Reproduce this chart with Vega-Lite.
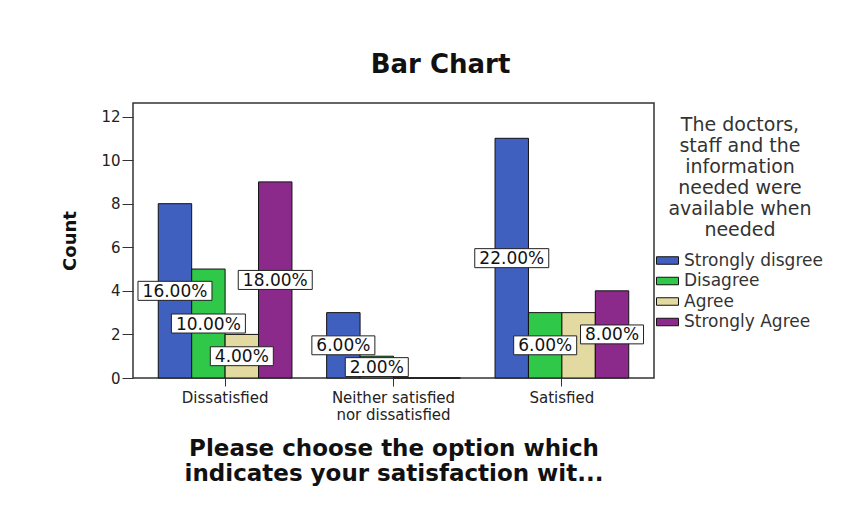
{
  "$schema": "https://vega.github.io/schema/vega-lite/v6.json",
  "autosize": "none",
  "width": 521,
  "height": 275,
  "padding": {"left": 133, "top": 103, "right": 204, "bottom": 134},
  "background": "white",
  "title": {"text": "Bar Chart", "font": "DejaVu Sans", "fontSize": 26, "fontWeight": "bold", "color": "#111111", "offset": 25, "dx": 47, "anchor": "middle", "frame": "group"},
  "config": {"view": {"stroke": "#333333", "strokeWidth": 1.5}, "font": "DejaVu Sans"},
  "data": {"values": [
    {"satisfaction": "Dissatisfied", "response": "Strongly disgree", "count": 8, "pct": 0.16},
    {"satisfaction": "Dissatisfied", "response": "Disagree", "count": 5, "pct": 0.10},
    {"satisfaction": "Dissatisfied", "response": "Agree", "count": 2, "pct": 0.04},
    {"satisfaction": "Dissatisfied", "response": "Strongly Agree", "count": 9, "pct": 0.18},
    {"satisfaction": "Neither satisfied nor dissatisfied", "response": "Strongly disgree", "count": 3, "pct": 0.06},
    {"satisfaction": "Neither satisfied nor dissatisfied", "response": "Disagree", "count": 1, "pct": 0.02},
    {"satisfaction": "Neither satisfied nor dissatisfied", "response": "Agree", "count": 0, "pct": 0},
    {"satisfaction": "Neither satisfied nor dissatisfied", "response": "Strongly Agree", "count": 0, "pct": 0},
    {"satisfaction": "Satisfied", "response": "Strongly disgree", "count": 11, "pct": 0.22},
    {"satisfaction": "Satisfied", "response": "Disagree", "count": 3, "pct": 0.06},
    {"satisfaction": "Satisfied", "response": "Agree", "count": 3, "pct": 0.06},
    {"satisfaction": "Satisfied", "response": "Strongly Agree", "count": 4, "pct": 0.08}
  ]},
  "encoding": {
    "x": {"field": "satisfaction", "type": "nominal", "sort": ["Dissatisfied", "Neither satisfied nor dissatisfied", "Satisfied"],
      "scale": {"paddingInner": 0.206, "paddingOuter": 0.15},
      "title": ["Please choose the option which", "indicates your satisfaction wit..."],
      "axis": {"labelAngle": 0, "domain": false, "tickSize": 8, "tickColor": "#333333", "labelPadding": 4, "labelFontSize": 15, "labelColor": "#222222", "labelLineHeight": 17,
        "labelExpr": "datum.value == 'Neither satisfied nor dissatisfied' ? ['Neither satisfied', 'nor dissatisfied'] : datum.value",
        "titleFontSize": 23, "titleFontWeight": "bold", "titleColor": "#111111", "titlePadding": 15, "titleLineHeight": 25}},
    "xOffset": {"field": "response", "type": "nominal", "sort": ["Strongly disgree", "Disagree", "Agree", "Strongly Agree"]}
  },
  "layer": [
    {
      "mark": {"type": "bar", "stroke": "#111111", "strokeWidth": 1},
      "encoding": {
        "y": {"field": "count", "type": "quantitative", "scale": {"domain": [0, 12.62], "nice": false}, "title": "Count",
          "axis": {"values": [0, 2, 4, 6, 8, 10, 12], "grid": false, "domain": false, "tickSize": 11, "tickColor": "#333333", "labelPadding": 2, "labelFontSize": 15, "labelColor": "#222222",
            "titleFontSize": 18, "titleFontWeight": "bold", "titleColor": "#111111", "titlePadding": 21}},
        "color": {"field": "response", "type": "nominal", "sort": ["Strongly disgree", "Disagree", "Agree", "Strongly Agree"],
          "scale": {"domain": ["Strongly disgree", "Disagree", "Agree", "Strongly Agree"], "range": ["#4060C0", "#30C848", "#E2DAA0", "#8B2A8A"]},
          "legend": {"orient": "none", "legendX": 524, "legendY": 13,
            "title": ["The doctors,", "staff and the", "information", "needed were", "available when", "needed"],
            "titleFontSize": 19, "titleFontWeight": "normal", "titleColor": "#333333", "titleAlign": "center", "titleAnchor": "middle", "titleLineHeight": 21, "titlePadding": 10,
            "labelFontSize": 17, "labelColor": "#333333", "labelOffset": 6,
            "symbolType": "M-1.1,-0.375L1.1,-0.375L1.1,0.375L-1.1,0.375Z", "symbolSize": 400, "symbolStrokeColor": "#111111", "symbolStrokeWidth": 1, "symbolOpacity": 1, "rowPadding": 1.5}}
      }
    },
    {
      "transform": [{"filter": "datum.pct >= 0.1"}],
      "mark": {"type": "point", "shape": "M-1,-0.257L1,-0.257L1,0.257L-1,0.257Z", "size": 5476, "filled": true, "fill": "white", "stroke": "#222222", "strokeWidth": 1, "opacity": 1},
      "encoding": {"y": {"field": "count", "type": "quantitative", "scale": {"domain": [0, 25.24], "nice": false}, "axis": null}}
    },
    {
      "transform": [{"filter": "datum.pct > 0 && datum.pct < 0.1 && !(datum.satisfaction == 'Satisfied' && datum.response == 'Agree')"}],
      "mark": {"type": "point", "shape": "M-1,-0.3L1,-0.3L1,0.3L-1,0.3Z", "size": 3969, "filled": true, "fill": "white", "stroke": "#222222", "strokeWidth": 1, "opacity": 1},
      "encoding": {"y": {"field": "count", "type": "quantitative", "scale": {"domain": [0, 25.24], "nice": false}, "axis": null}}
    },
    {
      "transform": [{"filter": "datum.pct > 0 && !(datum.satisfaction == 'Satisfied' && datum.response == 'Agree')"}],
      "mark": {"type": "text", "fontSize": 17, "font": "DejaVu Sans", "color": "#111111", "align": "center", "baseline": "middle", "dy": 1},
      "encoding": {
        "y": {"field": "count", "type": "quantitative", "scale": {"domain": [0, 25.24], "nice": false}, "axis": null},
        "text": {"field": "pct", "type": "quantitative", "format": ".2%"}
      }
    }
  ],
  "resolve": {"scale": {"y": "independent"}}
}
